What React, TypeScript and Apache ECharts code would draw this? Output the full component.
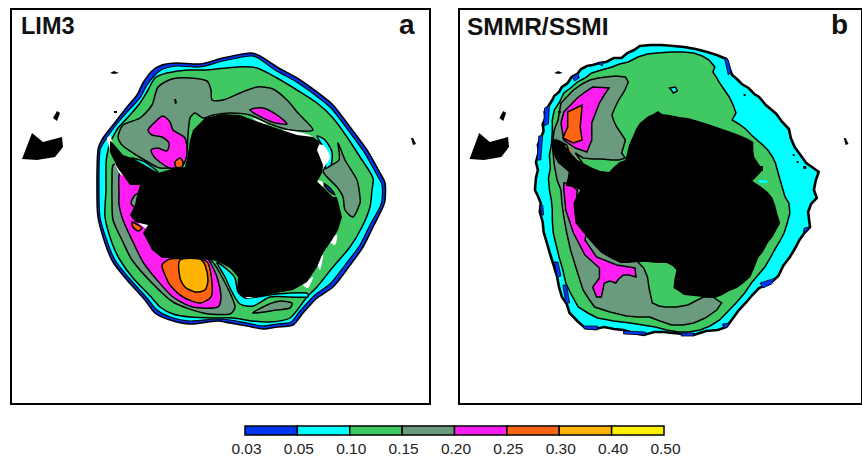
import React, { useEffect, useRef } from "react";
import * as echarts from "echarts";

const TICK_LABELS = ["0.03", "0.05", "0.10", "0.15", "0.20", "0.25", "0.30", "0.40", "0.50"];
const LEVEL_COLORS = ["#0036F0", "#00FFFF", "#40C962", "#6B9B7F", "#FF1EF0", "#FF6414", "#FFB400", "#FFF200"];
const BLUE = 0, CYAN = 1, GREEN = 2, GREY = 3, MAGENTA = 4, ORANGE = 5, AMBER = 6, YELLOW = 7, INK = 8, PAPER = 9;

type P = number[][];

// Map outlines, panel a (map units)
const aOuter: P = [[98,150],[103,138],[113,125],[127,107],[137,95],[143,83],[152,71],[162,65],[177,63],[200,64],[223,58],[250,53],[260,56],[277,67],[297,78],[317,92],[333,105],[350,127],[367,150],[380,173],[385,183],[385,200],[383,207],[373,227],[363,247],[348,268],[333,287],[317,298],[303,313],[293,325],[277,327],[263,329],[247,326],[230,323],[217,321],[190,324],[170,320],[155,313],[145,300],[127,280],[113,262],[105,243],[98,217],[97,190]];
const aCyan: P = [[100,150],[106,139],[116,125],[129,110],[140,98],[147,85],[155,75],[163,69],[177,66],[200,67],[223,61],[250,56],[258,58],[275,70],[295,81],[315,95],[331,108],[348,130],[364,152],[377,175],[382,185],[382,200],[380,207],[370,225],[360,245],[345,265],[330,284],[315,295],[300,311],[291,322],[277,324],[263,326],[247,323],[230,320],[217,319],[190,321],[170,317],[157,310],[147,298],[129,278],[115,260],[107,241],[100,217],[99,190]];
const aGreen: P = [[106,190],[106,165],[107,155],[110,143],[115,133],[118,128],[130,115],[140,103],[148,90],[155,78],[167,73],[187,70],[207,70],[237,67],[257,68],[277,78],[297,90],[317,103],[333,118],[347,137],[360,157],[373,178],[372,190],[370,207],[362,227],[350,247],[333,267],[317,287],[307,297],[290,318],[270,322],[253,321],[233,318],[213,318],[190,317],[173,314],[160,307],[152,298],[133,278],[120,260],[112,243],[105,217]];
const aGreyNorth: P = [[118,137],[123,125],[140,118],[152,105],[158,87],[172,79],[190,78],[207,81],[211,90],[212,100],[223,100],[240,93],[257,87],[273,89],[287,100],[298,113],[313,130],[290,130],[270,124],[250,115],[230,113],[213,115],[203,118],[195,113],[190,118],[188,135],[187,150],[183,165],[177,167],[160,168],[148,162],[133,153],[122,145]];
const aGreyEast: P = [[338,143],[345,160],[357,180],[360,197],[360,203],[353,217],[345,210],[343,197],[337,187],[323,171],[339,160]];
const aGreySouth: P = [[113,165],[112,180],[112,200],[113,220],[122,240],[132,260],[152,283],[173,302],[203,313],[230,314],[235,307],[230,293],[222,277],[215,265],[210,260],[170,230],[130,190],[120,165]];
const aGreyPatch: P = [[253,313],[267,305],[280,301],[292,303],[290,308],[277,310]];
const aGreySpot: P = [[135,195],[140,193],[135,207],[131,203]];
const aMagentaNorth: P = [[148,130],[155,122],[163,116],[170,122],[173,130],[185,138],[187,153],[183,165],[170,168],[155,158],[151,150],[158,148],[167,151],[169,143],[162,137],[152,135]];
const aMagentaEast: P = [[250,110],[263,108],[277,115],[287,124],[272,122]];
const aMagentaSouth: P = [[120,172],[119,195],[119,205],[123,220],[132,240],[143,262],[157,280],[173,297],[193,307],[218,307],[221,297],[217,277],[210,262],[205,255],[170,230],[135,170]];
const aOrangeNorth: P = [[175,162],[180,158],[183,162],[182,167],[176,167]];
const aOrangeSouth: P = [[162,265],[170,259],[200,259],[208,263],[212,283],[211,297],[200,303],[183,297],[170,285],[165,275]];
const aOrangeCoast: P = [[132,222],[138,225],[142,228],[138,231],[133,227]];
const aAmberSouth: P = [[180,260],[200,259],[205,265],[208,280],[205,290],[195,292],[185,287],[180,278]];
const aCyanCoast: P = [[217,262],[230,272],[235,278],[238,292],[245,298],[257,297],[277,294],[307,293],[308,297],[290,297],[270,297],[253,306],[240,304],[232,292],[225,277],[218,265]];
const aCyanNorthCoast: P = [[132,158],[145,162],[158,172],[155,173],[145,167]];
const aCyanBay: P = [[317,136],[325,140],[332,152],[331,165],[325,168],[328,155],[322,145]];
const aBlueBay: P = [[323,183],[330,188],[335,195],[328,190]];
const aClear: P[] = [
  [[107,138],[110,136],[113,145],[111,151],[108,143]],
  [[114,161],[120,168],[126,176],[120,174]],
  [[140,195],[143,197],[138,200]],
  [[253,118],[267,124],[260,124]],
  [[282,130],[303,133],[313,137],[297,139],[283,134]],
  [[315,147],[323,145],[330,157],[323,167]],
  [[317,180],[323,182],[323,187]],
  [[332,207],[341,217],[338,218],[333,215]],
  [[328,240],[337,235],[335,245]],
  [[317,260],[323,255],[320,270]],
  [[303,285],[313,277],[308,288]],
  [[230,265],[238,262],[240,273],[233,270]],
  [[240,293],[253,297],[247,298]],
  [[138,222],[150,221],[151,232],[145,228]],
];
const aLand: P = [[110,141],[112,142],[123,155],[132,158],[145,165],[158,173],[175,168],[185,167],[188,153],[190,140],[193,130],[205,118],[222,114],[240,115],[253,120],[270,126],[282,130],[297,135],[313,137],[320,142],[317,150],[323,165],[322,173],[317,182],[323,187],[333,197],[337,197],[342,217],[338,230],[332,240],[323,253],[317,267],[307,282],[293,290],[277,293],[257,297],[243,297],[237,290],[238,277],[230,268],[217,261],[200,259],[173,258],[162,258],[152,250],[143,233],[148,225],[135,222],[130,215],[135,205],[137,195],[140,185],[130,185],[125,178],[117,167],[110,152]];
const aSpeck: P = [[174,99],[176,99],[177,103],[175,104]];

// Islands shared by both panels
const islands: P[] = [
  [[22,159],[32,133],[43,142],[62,137],[63,147],[55,157],[37,160]],
  [[53,118],[57,111],[60,113],[57,121]],
  [[110,73],[114,71],[119,73],[114,74]],
  [[114,111],[117,111],[117,113],[114,113]],
  [[411,138],[413,138],[416,144],[413,145]],
];

// Map outlines, panel b (map units)
const bOuter: P = [[538,190],[539,178],[541,170],[539,162],[542,152],[541,145],[544,138],[547,131],[546,124],[549,118],[548,112],[552,106],[556,100],[558,96],[563,92],[566,87],[572,83],[576,77],[582,74],[586,69],[592,66],[598,65],[605,63],[612,62],[620,58],[628,58],[634,53],[641,50],[647,46],[658,45],[670,45],[682,46],[693,47],[705,49],[717,52],[727,55],[737,59],[740,68],[743,75],[749,80],[753,84],[760,88],[766,94],[771,97],[778,105],[783,109],[789,114],[795,122],[802,129],[804,138],[808,147],[814,155],[820,163],[826,167],[833,172],[830,180],[828,190],[831,198],[825,204],[822,212],[823,220],[824,227],[818,233],[813,240],[808,249],[803,257],[796,266],[791,276],[783,283],[771,288],[764,295],[757,303],[750,310],[744,318],[737,327],[728,330],[716,331],[703,335],[692,334],[681,333],[672,332],[662,332],[651,335],[640,333],[630,330],[620,329],[610,327],[600,329],[590,328],[582,321],[574,313],[571,304],[566,297],[563,287],[561,277],[557,264],[554,255],[551,245],[547,232],[546,222],[543,212],[544,203],[541,196]];
const bBluePatches: P[] = [
  [[547,126],[548,108],[553,106],[552,124]],
  [[540,160],[542,136],[546,136],[544,160]],
  [[577,77],[583,73],[584,78],[579,81]],
  [[603,63],[609,62],[608,66]],
  [[735,58],[739,60],[742,72],[739,75]],
  [[543,205],[546,205],[547,215],[545,215]],
  [[558,262],[562,262],[565,276],[561,277]],
  [[567,285],[571,285],[574,303],[570,303]],
  [[587,326],[603,326],[603,330],[590,329]],
  [[630,331],[653,332],[653,335],[630,334]],
  [[690,333],[703,333],[703,336],[690,336]],
  [[733,324],[740,323],[738,327],[734,328]],
  [[772,283],[788,278],[784,284],[775,288]],
  [[818,228],[823,227],[821,231],[817,232]],
];
const bGreen: P = [[553,190],[552,178],[554,168],[553,155],[555,145],[556,132],[556,120],[558,110],[563,103],[568,93],[575,88],[582,82],[590,78],[597,73],[607,70],[618,67],[626,64],[635,62],[645,57],[655,54],[665,53],[680,52],[692,52],[703,53],[712,56],[719,60],[725,67],[723,72],[727,78],[730,83],[735,90],[740,97],[744,105],[747,113],[743,120],[750,124],[757,129],[763,135],[770,141],[776,146],[780,150],[785,157],[788,163],[790,170],[792,177],[795,187],[798,197],[802,203],[803,213],[800,224],[797,233],[792,242],[787,250],[782,259],[777,267],[770,275],[763,283],[756,293],[747,303],[738,312],[730,320],[720,326],[710,330],[698,332],[687,332],[675,330],[663,327],[650,325],[637,323],[620,321],[603,318],[593,313],[583,307],[576,295],[570,283],[567,270],[563,257],[560,245],[557,233],[556,220],[556,210],[555,200]];
const bGrey: P = [[562,120],[565,103],[572,96],[578,90],[587,84],[595,80],[604,78],[612,77],[622,76],[632,77],[635,82],[631,91],[625,100],[621,108],[618,115],[620,121],[623,127],[628,134],[632,140],[630,147],[628,153],[632,158],[625,160],[618,160],[607,159],[598,159],[588,158],[580,153],[600,180],[600,230],[645,262],[651,268],[655,277],[656,284],[657,290],[660,303],[667,306],[673,307],[685,307],[697,305],[705,301],[713,297],[723,297],[732,303],[727,310],[715,318],[703,323],[692,325],[680,325],[668,321],[657,317],[645,317],[633,316],[616,312],[600,307],[594,299],[588,290],[582,272],[575,250],[571,233],[568,217],[566,204],[565,190],[561,180],[558,165],[556,145],[558,130]];
const bMagentaNorth: P = [[565,123],[568,112],[575,105],[582,98],[590,92],[598,87],[615,88],[610,95],[605,103],[601,113],[597,123],[597,140],[592,152],[580,148],[568,140]];
const bMagentaSouth: P = [[568,183],[572,183],[582,190],[580,213],[592,230],[590,240],[602,257],[623,265],[642,268],[643,277],[636,275],[630,275],[625,279],[622,283],[616,281],[610,283],[607,297],[602,297],[598,287],[605,278],[605,268],[590,255],[578,233],[570,210],[568,190]];
const bOrange: P = [[572,112],[587,105],[585,127],[587,140],[578,143],[567,138],[572,127]];
const bYellow: P = [[567,143],[571,145],[573,150],[570,148]];
const bOrangeDot: P = [[573,148],[577,152],[574,153]];
const bCyanPond: P = [[678,88],[684,87],[686,91],[682,93]];
const bCyanInlet: P = [[770,180],[779,180],[780,183],[772,183]];
const bLand: P = [[555,140],[560,139],[565,141],[569,146],[573,150],[577,155],[582,160],[590,164],[598,168],[606,171],[615,172],[620,167],[626,162],[632,160],[634,152],[636,144],[640,136],[643,129],[647,123],[652,119],[656,116],[661,114],[666,111],[670,114],[678,115],[688,117],[697,118],[708,121],[718,124],[727,127],[736,130],[745,133],[753,136],[760,139],[765,142],[765,150],[766,157],[770,163],[775,170],[769,176],[764,181],[772,186],[780,192],[785,198],[788,206],[790,214],[793,223],[789,230],[785,237],[780,243],[775,252],[770,258],[766,268],[762,277],[755,283],[748,288],[740,291],[733,295],[725,298],[713,297],[703,296],[693,295],[687,291],[682,288],[683,279],[685,270],[681,266],[675,263],[665,263],[655,262],[645,262],[635,263],[627,263],[618,259],[607,253],[600,246],[592,237],[586,230],[580,223],[579,213],[578,203],[581,197],[585,190],[578,187],[570,186],[572,178],[573,172],[567,167],[562,163],[558,156],[556,148]];
const bSpecks: P[] = [
  [[755,94],[757,94],[757,96],[755,96]],
  [[806,154],[808,154],[808,156],[806,156]],
  [[810,161],[812,161],[812,163],[810,163]],
  [[817,166],[820,166],[820,169],[817,169]],
  [[772,166],[775,166],[775,171],[772,171]],
];

type Layer = { fill: number; pts: P; line: number };
const layer = (fill: number, pts: P, line = 1.5): Layer => ({ fill, pts, line });

const panelA: Layer[] = [
  layer(BLUE, aOuter, 1.6), layer(CYAN, aCyan, 1.2), layer(GREEN, aGreen),
  layer(GREY, aGreyNorth), layer(GREY, aGreyEast), layer(GREY, aGreySouth), layer(GREY, aGreyPatch),
  layer(MAGENTA, aMagentaNorth), layer(MAGENTA, aMagentaEast), layer(MAGENTA, aMagentaSouth),
  layer(GREY, aGreySpot), layer(ORANGE, aOrangeNorth), layer(ORANGE, aOrangeSouth), layer(ORANGE, aOrangeCoast),
  layer(AMBER, aAmberSouth), layer(CYAN, aCyanCoast), layer(CYAN, aCyanNorthCoast), layer(CYAN, aCyanBay), layer(BLUE, aBlueBay),
  ...aClear.map((p) => layer(PAPER, p, 0)),
  layer(INK, aLand, 0), layer(INK, aSpeck, 0),
  ...islands.map((p) => layer(INK, p, 0)),
];
const panelB: Layer[] = [
  layer(CYAN, bOuter, 2.6), ...bBluePatches.map((p) => layer(BLUE, p, 0.8)),
  layer(GREEN, bGreen), layer(GREY, bGrey), layer(MAGENTA, bMagentaNorth), layer(MAGENTA, bMagentaSouth),
  layer(ORANGE, bOrange), layer(YELLOW, bYellow), layer(ORANGE, bOrangeDot, 0), layer(CYAN, bCyanPond), layer(INK, bLand, 0),
  layer(CYAN, bCyanInlet, 0),
  ...bSpecks.map((p) => layer(INK, p, 0)),
  ...islands.map((p) => layer(INK, p.map(([x, y]) => [x + 448, y]), 0)),
];

const fillOf = (i: number) => (i === INK ? "#000" : i === PAPER ? "#fff" : LEVEL_COLORS[i]);

function mapSeries(layers: Layer[], axis: number, smooth: number) {
  return {
    type: "custom", xAxisIndex: axis, yAxisIndex: axis, clip: true, silent: true,
    encode: { x: 0, y: 1 },
    data: layers.map((l, i) => [l.pts[0][0], l.pts[0][1], i]),
    renderItem: (_: any, api: any) => {
      const l = layers[api.value(2)];
      return {
        type: "polygon",
        shape: { points: l.pts.map((p) => api.coord(p)), smooth: l.fill === INK ? 0 : smooth },
        style: { fill: fillOf(l.fill), stroke: l.line ? "#000" : "none", lineWidth: l.line },
      };
    },
  };
}

const panelTitles = [
  { text: "LIM3", left: 21, top: 14, font: 23.5 },
  { text: "SMMR/SSMI", left: 467, top: 14, font: 24.5 },
  { text: "a", left: 399, top: 10, font: 28 },
  { text: "b", left: 831, top: 10, font: 28 },
];

export default function App() {
  const ref = useRef<HTMLDivElement>(null);
  useEffect(() => {
    const chart = echarts.init(ref.current!, null, { renderer: "svg" });
    const hiddenY = (min: number, max: number, inverse = true) => ({ type: "value", min, max, inverse, show: false, gridIndex: 0 });
    chart.setOption({
      animation: false,
      backgroundColor: "#fff",
      grid: [
        { left: 11, top: 9, width: 419, height: 395, show: true, borderColor: "#000", borderWidth: 2, backgroundColor: "#fff" },
        { left: 459, top: 9, width: 419, height: 395, show: true, borderColor: "#000", borderWidth: 2, backgroundColor: "#fff" },
        { left: 245, top: 426, width: 419, height: 9 },
      ],
      xAxis: [
        { type: "value", gridIndex: 0, min: 11, max: 430, show: false },
        { type: "value", gridIndex: 1, min: 459, max: 878, show: false },
        {
          type: "value", gridIndex: 2, min: 0, max: 8, interval: 1,
          axisLine: { show: false }, axisTick: { show: false }, splitLine: { show: false },
          axisLabel: { margin: 5, padding: [0, 0, 0, 3], fontFamily: "Liberation Sans", fontSize: 15.5, color: "#222", formatter: (v: number) => TICK_LABELS[v] },
        },
      ],
      yAxis: [
        { ...hiddenY(9, 404), gridIndex: 0 },
        { ...hiddenY(9, 404), gridIndex: 1 },
        { ...hiddenY(0, 1, false), gridIndex: 2 },
      ],
      series: [
        mapSeries(panelA, 0, 0.25),
        mapSeries(panelB, 1, 0),
        {
          type: "custom", xAxisIndex: 2, yAxisIndex: 2, clip: false, silent: true,
          encode: { x: 0, y: 1 },
          data: LEVEL_COLORS.map((_, i) => [i, 0, i]),
          renderItem: (_: any, api: any) => {
            const i = api.value(2);
            const a = api.coord([i, 0]);
            const b = api.coord([i + 1, 1]);
            return {
              type: "rect",
              shape: { x: a[0], y: b[1], width: b[0] - a[0], height: a[1] - b[1] },
              style: { fill: LEVEL_COLORS[i], stroke: "#000", lineWidth: 1.5 },
            };
          },
        },
      ],
      graphic: panelTitles.map((t) => ({
        type: "text", left: t.left, top: t.top, z: 100,
        style: { text: t.text, fill: "#111", font: `bold ${t.font}px "Liberation Sans"` },
      })),
    });
    return () => chart.dispose();
  }, []);
  return <div ref={ref} style={{ position: "fixed", left: 0, top: 0, width: 862, height: 460 }} />;
}
